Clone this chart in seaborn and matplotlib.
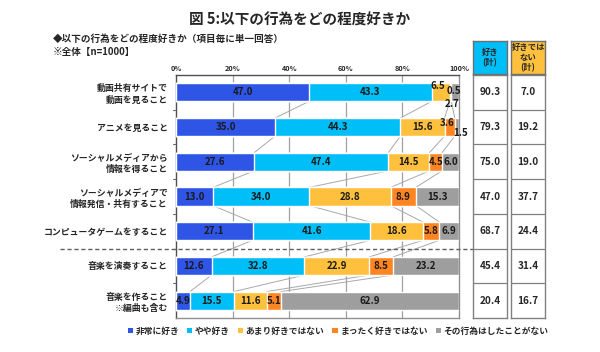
import numpy as np
import pandas as pd
import matplotlib.pyplot as plt
import matplotlib.transforms as mtransforms
from matplotlib.patches import Patch
import seaborn as sns

# data
categories = ['動画共有サイトで\n動画を見ること', 'アニメを見ること', 'ソーシャルメディアから\n情報を得ること',
              'ソーシャルメディアで\n情報発信・共有すること', 'コンピュータゲームをすること',
              '音楽を演奏すること', '音楽を作ること\n※編曲も含む']
series = ['非常に好き', 'やや好き', 'あまり好きではない', 'まったく好きではない', 'その行為はしたことがない']
very_like = [47.0, 35.0, 27.6, 13.0, 27.1, 12.6, 4.9]
like = [43.3, 44.3, 47.4, 34.0, 41.6, 32.8, 15.5]
not_much = [6.5, 15.6, 14.5, 28.8, 18.6, 22.9, 11.6]
not_at_all = [0.5, 3.6, 4.5, 8.9, 5.8, 8.5, 5.1]
never = [2.7, 1.5, 6.0, 15.3, 6.9, 23.2, 62.9]
like_total = [90.3, 79.3, 75.0, 47.0, 68.7, 45.4, 20.4]
dislike_total = [7.0, 19.2, 19.0, 37.7, 24.4, 31.4, 16.7]

colors = ['#2F55E6', '#00BEF7', '#FFC13D', '#FF8422', '#9E9E9E']

sns.set_theme(style='white')
plt.rcParams['font.family'] = ['Noto Sans CJK JP', 'DejaVu Sans']
plt.rcParams['font.weight'] = 'bold'

vals = np.array([very_like, like, not_much, not_at_all, never])
cum = np.cumsum(vals, axis=0)

df = pd.DataFrame({'cat': categories})
for k in range(5):
    df['c%d' % k] = cum[k]

fig = plt.figure(figsize=(6, 3.52), dpi=100)
ax = fig.add_axes([176/600, 1-318/352, 283/600, 243/352])

bh = 0.52
# stacked bars: draw cumulative totals from widest to narrowest
for k in range(4, -1, -1):
    sns.barplot(data=df, x='c%d' % k, y='cat', color=colors[k], orient='h',
                width=bh, saturation=1, ax=ax, zorder=3)

ax.set_xlim(0, 100)
ax.set_ylim(6.5, -0.5)
ax.set_xlabel('')
ax.set_ylabel('')
ax.xaxis.tick_top()
ax.set_xticks(range(0, 101, 20))
ax.set_xticklabels(['%d%%' % v for v in range(0, 101, 20)], fontsize=5.2, fontweight='bold')
ax.tick_params(axis='x', length=0, pad=2)
ax.set_yticks(range(7))
ax.set_yticklabels(categories, fontsize=6.4, fontweight='bold', linespacing=1.35)
ax.tick_params(axis='y', length=0, pad=6)
for v in [20, 40, 60, 80]:
    ax.axvline(v, color='#A0A0A0', lw=0.9, zorder=1)
for y in np.arange(0.5, 6.5, 1):
    ax.plot([-1.2, 0], [y, y], color='#707070', lw=0.8, clip_on=False)
for s in ['left', 'top']:
    ax.spines[s].set_color('#505050')
for s in ['right', 'bottom']:
    ax.spines[s].set_color('#909090')
for s in ax.spines.values():
    s.set_linewidth(1.0)

# series lines between rows
for i in range(6):
    for k in range(4):
        ax.plot([cum[k][i], cum[k][i+1]], [i + bh/2, i + 1 - bh/2],
                color='#A8A8A8', lw=0.7, zorder=2)

# value labels
offsets = {(0, 2): (-0.9, -0.17), (0, 3): (1.2, -0.05), (0, 4): (-1.0, 0.33),
           (1, 3): (-1.0, -0.12), (1, 4): (1.3, 0.18)}
for i in range(7):
    for k in range(5):
        v = vals[k][i]
        x = cum[k][i] - v/2
        dx, dy = offsets.get((i, k), (0, 0))
        ax.text(x + dx, i + dy, '%.1f' % v, ha='center', va='center',
                fontsize=7.0, fontweight='bold', color='#1a1a1a', zorder=5)

# dashed separator
tr = mtransforms.blended_transform_factory(fig.transFigure, ax.transData)
ax.plot([60/600, 482/600], [4.5, 4.5], transform=tr, color='#606060', lw=1.0,
        ls=(0, (3, 2)), clip_on=False, zorder=6)

# summary table
def table_col(x0, values, head, hcolor):
    tax = fig.add_axes([x0/600, 1-318/352, 34/600, 243/352])
    tax.set_xlim(0, 1)
    tax.set_ylim(6.5, -0.5)
    tax.set_xticks([])
    tax.set_yticks([])
    for s in tax.spines.values():
        s.set_color('#808080')
        s.set_linewidth(1.0)
    for y in np.arange(0.5, 6.5, 1):
        tax.axhline(y, color='#808080', lw=0.9)
    for i, v in enumerate(values):
        tax.text(0.5, i, '%.1f' % v, ha='center', va='center', fontsize=7.2, fontweight='bold')
    hax = fig.add_axes([x0/600, 1-74/352, 34/600, 33/352])
    hax.set_facecolor(hcolor)
    hax.set_xticks([])
    hax.set_yticks([])
    for s in hax.spines.values():
        s.set_color('#707070')
        s.set_linewidth(1.0)
    hax.text(0.5, 0.5, head, ha='center', va='center', fontsize=6.0, fontweight='bold',
             linespacing=1.2, transform=hax.transAxes)

table_col(473, like_total, '好き\n(計)', '#00BEF7')
table_col(511, dislike_total, '好きでは\nない\n(計)', '#FFC13D')

# titles
fig.text(0.5, 0.945, '図 5:以下の行為をどの程度好きか', ha='center', va='center',
         fontsize=10.5, fontweight='bold')
fig.text(53/600, 1-39/352, '◆以下の行為をどの程度好きか（項目毎に単一回答）', ha='left', va='center',
         fontsize=6.9, fontweight='bold')
fig.text(53/600, 1-52/352, '※全体【n=1000】', ha='left', va='center',
         fontsize=6.9, fontweight='bold')

handles = [Patch(facecolor=c, edgecolor='none') for c in colors]
fig.legend(handles, series, loc='center', bbox_to_anchor=(338/600, 1-331/352), ncol=5,
           frameon=False, handlelength=0.6, handleheight=0.6,
           handletextpad=0.3, columnspacing=0.9, prop={'weight': 'bold', 'size': 6.3})

fig.savefig('out.png', dpi=100, facecolor='white')
